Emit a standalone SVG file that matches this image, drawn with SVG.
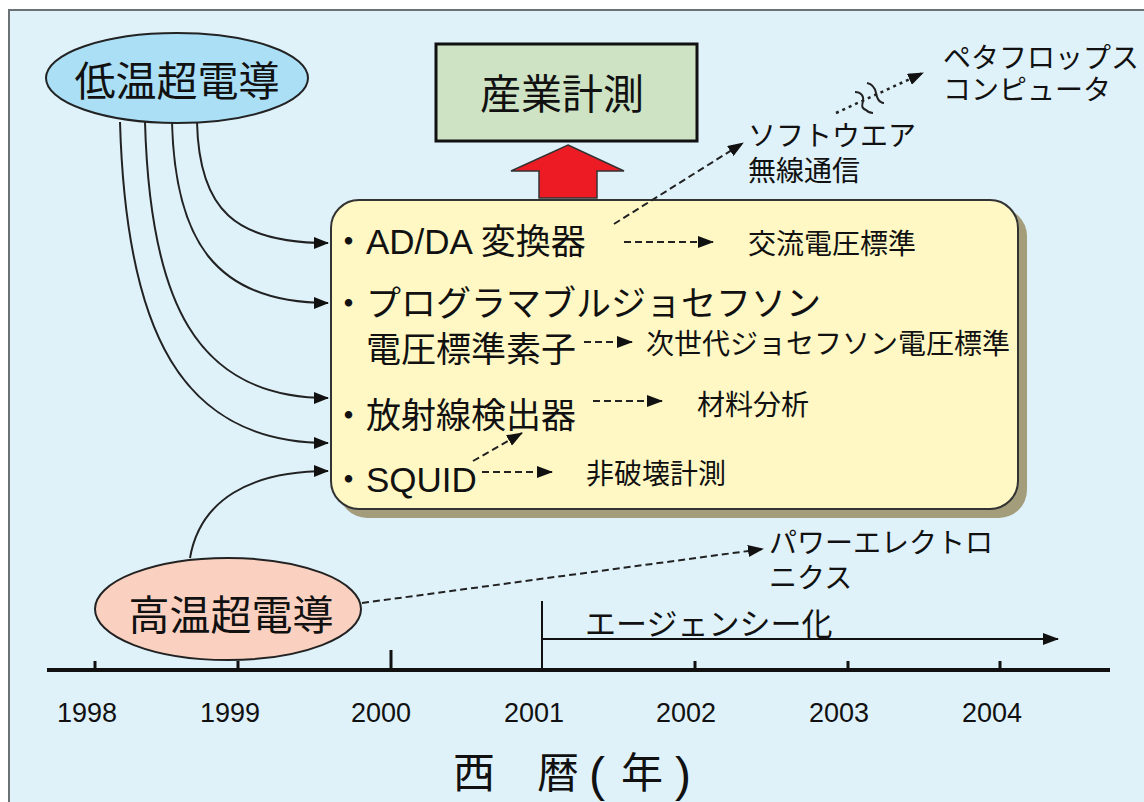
<svg xmlns="http://www.w3.org/2000/svg" width="1144" height="802" viewBox="0 0 1144 802">
<style>
text{font-family:"Liberation Sans","Noto Sans CJK JP",sans-serif;fill:#111}
.big{font-size:41px}
.item{font-size:35px}
.lbl{font-size:28px}
.yr{font-size:27px;text-anchor:middle}
.solid{fill:none;stroke:#222;stroke-width:2}
.dash{fill:none;stroke:#222;stroke-width:2;stroke-dasharray:7 4}
.dot{fill:none;stroke:#222;stroke-width:2.5;stroke-dasharray:3 4}
.sq{fill:none;stroke:#222;stroke-width:2}
</style>
<defs>
<marker id="ah" markerUnits="userSpaceOnUse" markerWidth="16" markerHeight="12" refX="15" refY="6" orient="auto">
<path d="M0,0 L16,6 L0,12 Z" fill="#111"/>
</marker>
<marker id="ahs" markerUnits="userSpaceOnUse" markerWidth="15" markerHeight="12" refX="14" refY="6" orient="auto">
<path d="M0,0 L15,6 L0,12 Z" fill="#111"/>
</marker>
</defs>
<rect x="0" y="0" width="1144" height="802" fill="#fff"/>
<rect x="9" y="10" width="1140" height="800" fill="#dff2fa" stroke="#6b7275" stroke-width="2"/>

<g id="axis">
<line x1="47" y1="670" x2="1110" y2="670" stroke="#111" stroke-width="4"/>
<g stroke="#111" stroke-width="3">
<line x1="95" y1="661" x2="95" y2="670"/>
<line x1="238" y1="661" x2="238" y2="670"/>
<line x1="391" y1="650" x2="391" y2="670"/>
<line x1="695" y1="661" x2="695" y2="670"/>
<line x1="848" y1="661" x2="848" y2="670"/>
<line x1="1000" y1="661" x2="1000" y2="670"/>
</g>
<line x1="542" y1="601" x2="542" y2="670" stroke="#111" stroke-width="2"/>
<text class="yr" x="87" y="722">1998</text>
<text class="yr" x="230" y="722">1999</text>
<text class="yr" x="381" y="722">2000</text>
<text class="yr" x="534" y="722">2001</text>
<text class="yr" x="686" y="722">2002</text>
<text class="yr" x="839" y="722">2003</text>
<text class="yr" x="992" y="722">2004</text>
<text style="font-size:42px"><tspan x="453" y="788">西</tspan><tspan x="537" y="788">暦</tspan><tspan x="589" y="791" style="font-size:48px">(</tspan><tspan x="621" y="788">年</tspan><tspan x="675" y="791" style="font-size:48px">)</tspan></text>
</g>

<g id="agency">
<line x1="542" y1="639" x2="1058" y2="639" stroke="#111" stroke-width="2" marker-end="url(#ah)"/>
<text x="585" y="635" style="font-size:31px">エージェンシー化</text>
</g>

<g id="main-box">
<rect x="339" y="208" width="688" height="310" rx="28" fill="#a39d7c"/>
<rect x="331" y="200" width="687" height="309" rx="28" fill="#fff8c4" stroke="#333" stroke-width="2"/>
<text class="item" x="331" y="254">・AD/DA 変換器</text>
<text class="item" x="331" y="316">・プログラマブルジョセフソン</text>
<text class="item" x="366" y="362">電圧標準素子</text>
<text class="item" x="331" y="428">・放射線検出器</text>
<text class="item" x="331" y="492">・SQUID</text>
</g>

<g id="low-temp">
<ellipse cx="177" cy="78" rx="131" ry="45" fill="#aadff6" stroke="#222" stroke-width="2"/>
<text class="big" x="177" y="96" text-anchor="middle">低温超電導</text>
</g>

<g id="high-temp">
<ellipse cx="228" cy="609" rx="133" ry="51" fill="#fad1c1" stroke="#222" stroke-width="2"/>
<text class="big" x="231" y="630" text-anchor="middle">高温超電導</text>
</g>

<g id="industry">
<rect x="436" y="44" width="261" height="97" fill="#cde3c4" stroke="#111" stroke-width="3"/>
<text class="big" x="562" y="109" text-anchor="middle">産業計測</text>
</g>

<g id="big-arrow">
<polygon points="568,145 624,171 597,171 597,198 539,198 539,171 511,171" fill="#ed1c24" stroke="#333" stroke-width="1.5"/>
</g>

<g id="labels">
<text class="lbl" x="748" y="146">ソフトウエア</text>
<text class="lbl" x="748" y="181">無線通信</text>
<text class="lbl" x="943" y="68">ペタフロップス</text>
<text class="lbl" x="943" y="100">コンピュータ</text>
<text class="lbl" x="748" y="254">交流電圧標準</text>
<text class="lbl" x="646" y="354">次世代ジョセフソン電圧標準</text>
<text class="lbl" x="697" y="415">材料分析</text>
<text class="lbl" x="586" y="484">非破壊計測</text>
<text class="lbl" x="769" y="553">パワーエレクトロ</text>
<text class="lbl" x="769" y="588">ニクス</text>
</g>

<g id="connectors">
<path class="solid" d="M197,122 C199,210 235,243 328,243" marker-end="url(#ahs)"/>
<path class="solid" d="M172,122 C175,240 215,303 328,303" marker-end="url(#ahs)"/>
<path class="solid" d="M145,122 C150,300 195,398 328,398" marker-end="url(#ahs)"/>
<path class="solid" d="M120,122 C126,330 180,443 328,443" marker-end="url(#ahs)"/>
<path class="solid" d="M190,558 C200,500 250,471 328,471" marker-end="url(#ahs)"/>
<line class="dash" x1="614" y1="224" x2="743" y2="143" marker-end="url(#ah)"/>
<line class="dash" x1="624" y1="242" x2="713" y2="242" marker-end="url(#ah)"/>
<line class="dash" x1="584" y1="342" x2="632" y2="342" marker-end="url(#ah)"/>
<line class="dash" x1="593" y1="401" x2="662" y2="401" marker-end="url(#ah)"/>
<line class="dash" x1="482" y1="472" x2="552" y2="472" marker-end="url(#ah)"/>
<line class="dash" x1="473" y1="461" x2="522" y2="433" marker-end="url(#ah)"/>
<line class="dash" x1="362" y1="603" x2="763" y2="549" marker-end="url(#ah)"/>
<line class="dot" x1="836" y1="113" x2="923" y2="73" marker-end="url(#ah)"/>
<path class="sq" d="M855,92 C861,92 864,96 863,101 C862,105 861,108 866,110 C868,112 871,113 873,113"/>
<path class="sq" d="M867,83 C872,84 875,88 876,93 C877,98 878,101 881,102 C882,103 883,103 884,103"/>
</g>
</svg>
